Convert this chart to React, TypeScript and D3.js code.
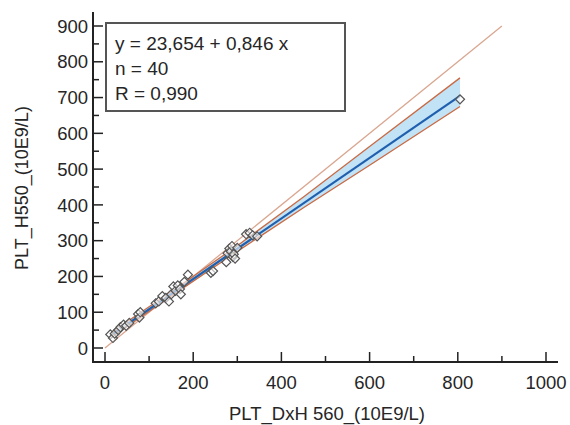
import React, { useRef, useEffect } from 'react';
import * as d3 from 'd3';

// measured values (PLT, 10E9/L)
const xVals = [12, 18, 22, 30, 35, 42, 48, 55, 75, 78, 80, 115, 122, 130, 138, 145, 150, 155, 160, 165,
    170, 172, 180, 188, 240, 245, 275, 278, 282, 285, 288, 290, 292, 295, 300, 320, 328, 335, 345, 805];
const yVals = [38, 28, 40, 50, 58, 65, 62, 70, 95, 85, 100, 125, 130, 145, 140, 130, 150, 172, 160, 175,
    165, 150, 185, 205, 210, 215, 240, 265, 278, 270, 285, 255, 262, 250, 280, 318, 322, 315, 312, 695];

// confidence band
const bandX = [15, 150, 300, 450, 600, 805];
const bandHi = [44, 157, 286, 422, 563, 755];
const bandLo = [30, 145, 270, 392, 511, 675];

const intercept = 23.654;
const slope = 0.846;
const statLines = ['y = 23,654 + 0,846 x', 'n = 40', 'R = 0,990'];
const xTicks = [0, 200, 400, 600, 800, 1000];
const yTicks = [0, 100, 200, 300, 400, 500, 600, 700, 800, 900];

const App = () => {
    const svgRef = useRef<SVGSVGElement>(null);

    useEffect(() => {
        const svg = d3.select(svgRef.current);
        svg.selectAll('*').remove();

        const font = 'Liberation Sans, Arial, sans-serif';
        const textColor = '#262626';
        const x = d3.scaleLinear().domain([0, 1000]).range([105, 546]);
        const y = d3.scaleLinear().domain([0, 900]).range([348, 26]);
        const axisLeftX = 93;
        const axisBottomY = 362;

        // band
        const band = bandX.map((v, i) => ({ x: v, lo: bandLo[i], hi: bandHi[i] }));
        svg.append('path')
            .datum(band)
            .attr('fill', '#c2e2f5')
            .attr('d', d3.area<any>().x(d => x(d.x)).y0(d => y(d.lo)).y1(d => y(d.hi)));

        const line = d3.line<[number, number]>().x(d => x(d[0])).y(d => y(d[1]));

        // identity line
        svg.append('path')
            .attr('d', line([[0, 0], [900, 900]]))
            .attr('stroke', '#d9a791').attr('stroke-width', 1.3).attr('fill', 'none');

        // band edges
        [bandHi, bandLo].forEach(arr => {
            svg.append('path')
                .attr('d', line(bandX.map((v, i) => [v, arr[i]] as [number, number])))
                .attr('stroke', '#c96a44').attr('stroke-width', 1.3).attr('fill', 'none');
        });

        // regression line
        svg.append('path')
            .attr('d', line([[15, intercept + slope * 15], [805, intercept + slope * 805]]))
            .attr('stroke', '#1f5fae').attr('stroke-width', 2.2).attr('fill', 'none');

        // points
        svg.selectAll('.pt')
            .data(xVals.map((v, i) => [v, yVals[i]]))
            .enter().append('rect')
            .attr('x', -3.2).attr('y', -3.2).attr('width', 6.4).attr('height', 6.4)
            .attr('transform', d => `translate(${x(d[0])},${y(d[1])}) rotate(45)`)
            .attr('fill', 'white').attr('fill-opacity', 0.6)
            .attr('stroke', '#555').attr('stroke-width', 1.2);

        // axes
        const ax = svg.append('g').attr('stroke', '#222').attr('stroke-width', 2);
        ax.append('line').attr('x1', axisLeftX).attr('x2', axisLeftX).attr('y1', 12).attr('y2', axisBottomY + 1);
        ax.append('line').attr('x1', axisLeftX - 1).attr('x2', 558).attr('y1', axisBottomY).attr('y2', axisBottomY);

        d3.range(0, 1001, 100).forEach(v => {
            const major = v % 200 === 0;
            ax.append('line').attr('x1', x(v)).attr('x2', x(v))
                .attr('y1', axisBottomY).attr('y2', axisBottomY - (major ? 10 : 6))
                .attr('stroke-width', 1.5);
        });
        d3.range(0, 901, 50).forEach(v => {
            const major = v % 100 === 0;
            ax.append('line').attr('x1', axisLeftX).attr('x2', axisLeftX + (major ? 10 : 6))
                .attr('y1', y(v)).attr('y2', y(v))
                .attr('stroke-width', 1.5);
        });

        svg.selectAll('.xt').data(xTicks).enter().append('text')
            .attr('x', d => x(d)).attr('y', 389)
            .attr('text-anchor', 'middle').attr('font-family', font).attr('font-size', 18.5).attr('fill', textColor)
            .text(d => d);
        svg.selectAll('.yt').data(yTicks).enter().append('text')
            .attr('x', 88).attr('y', d => y(d)).attr('dy', '0.36em')
            .attr('text-anchor', 'end').attr('font-family', font).attr('font-size', 18.5).attr('fill', textColor)
            .text(d => d);

        // axis titles
        svg.append('text')
            .attr('x', 327).attr('y', 420).attr('text-anchor', 'middle')
            .attr('font-family', font).attr('font-size', 18.5).attr('fill', textColor)
            .text('PLT_DxH 560_(10E9/L)');
        svg.append('text')
            .attr('transform', 'translate(28,188) rotate(-90)').attr('text-anchor', 'middle')
            .attr('font-family', font).attr('font-size', 18).attr('fill', textColor)
            .text('PLT_H550_(10E9/L)');

        // stats box
        svg.append('rect')
            .attr('x', 106).attr('y', 23).attr('width', 239).attr('height', 88)
            .attr('fill', 'white').attr('stroke', '#555').attr('stroke-width', 2);
        svg.selectAll('.st').data(statLines).enter().append('text')
            .attr('x', 115).attr('y', (d, i) => 50 + i * 25)
            .attr('font-family', font).attr('font-size', 19).attr('fill', textColor)
            .text(d => d);
    }, []);

    return (
        <svg ref={svgRef} width={570} height={425}
            style={{ position: 'absolute', left: 0, top: 0, background: 'white' }}></svg>
    );
};

export default App;
